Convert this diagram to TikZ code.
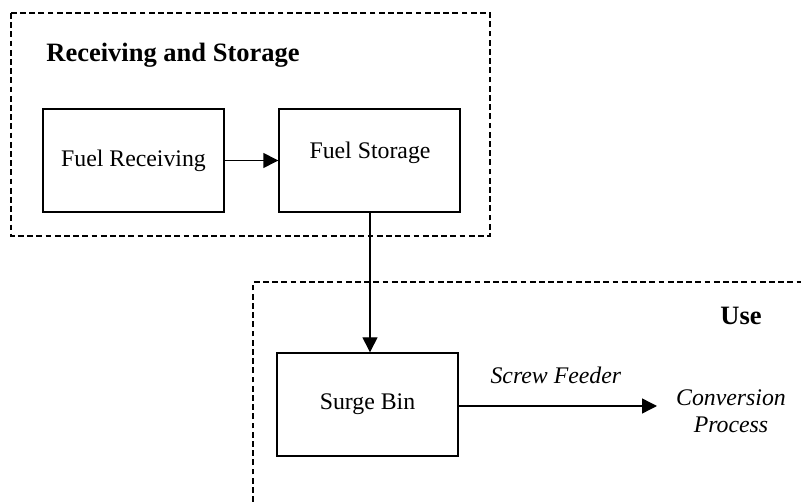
\documentclass[tikz,border=0pt]{standalone}
\usepackage{fontspec}
\setmainfont{Liberation Serif}
\usetikzlibrary{arrows.meta}
\tikzset{
  stage/.style={draw, line width=1.4pt, minimum width=181pt, minimum height=103pt, inner sep=0pt,
                font=\fontsize{23.8}{28}\selectfont},
  group/.style={draw, line width=1.2pt, dash pattern=on 5.8pt off 3.4pt},
  flow/.style={draw, line width=1.4pt, -{Triangle[length=15pt,width=15pt]}},
  heading/.style={font=\fontsize{26.5}{30}\selectfont\bfseries, inner sep=0pt},
  note/.style={font=\fontsize{23.8}{28}\selectfont\itshape, inner sep=0pt, align=center}
}
\begin{document}
\begin{tikzpicture}[x=1pt,y=-1pt]
  \useasboundingbox (0,0) rectangle (801,502);
  % dashed group outlines
  \draw[group] (11,13) rectangle (490,236);
  \draw[group] (253,502) -- (253,282) -- (801,282);
  % group headings
  \node[heading] (hrs) at (173,55) {Receiving and Storage};
  \node[heading] (huse) at (741,316) {Use};
  % process boxes
  \node[stage] (recv) at (133.5,160.5) {Fuel Receiving};
  \node[stage] (store) at (369.5,160.5) {};
  \node[font=\fontsize{23.8}{28}\selectfont, inner sep=0pt] (storetxt) at (370,153) {Fuel Storage};
  \node[stage] (surge) at (367.5,404.5) {Surge Bin};
  % end point of the feeder line
  \coordinate (conv) at (657,406);
  \node[note] (convtxt) at (731,411) {Conversion\\[-1pt]Process};
  % connectors
  \draw[flow] (recv.east) -- (store.west);
  \draw[flow] (store.south -| storetxt) -- (surge.north -| storetxt);
  \draw[flow] (surge.east |- conv) -- node[note, above=22pt, xshift=-2pt] (feeder) {Screw Feeder} (conv);
\end{tikzpicture}
\end{document}
